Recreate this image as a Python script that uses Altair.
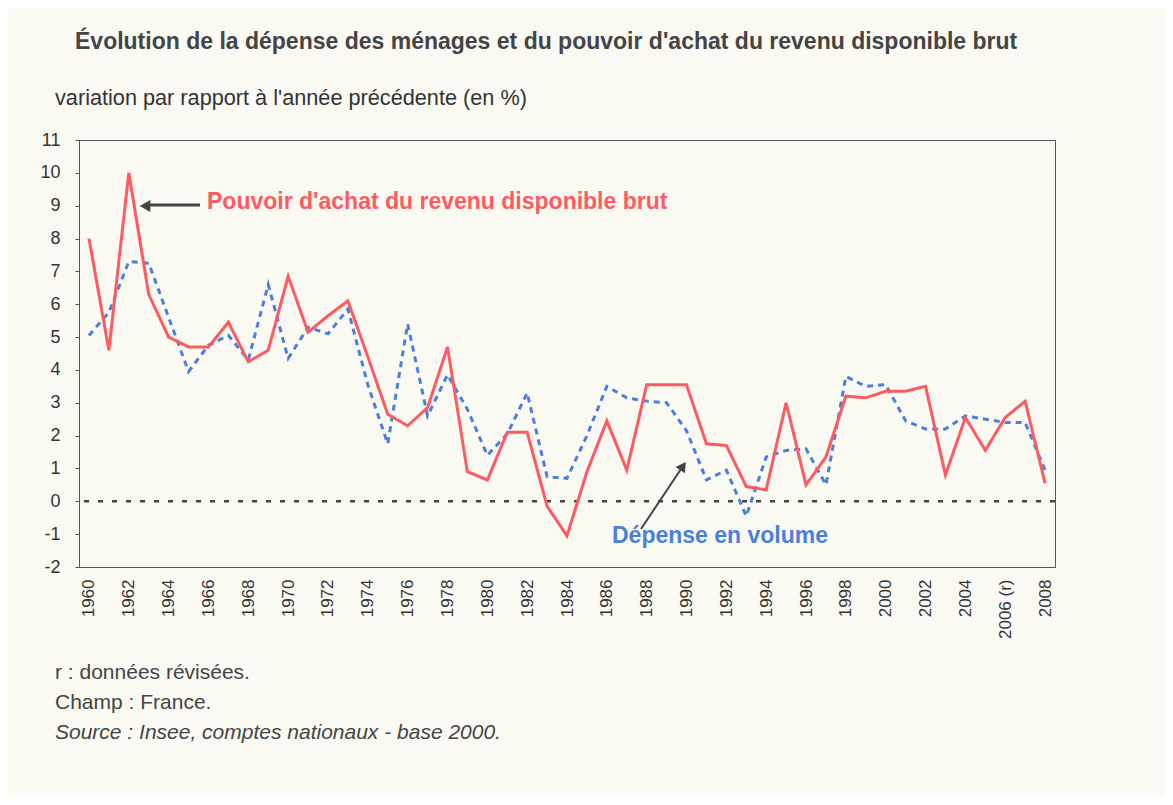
import altair as alt
import pandas as pd

years = [str(y) for y in range(1960, 2009)]

pouvoir_achat = [8.0, 4.6, 10.0, 6.3, 5.0, 4.7, 4.7, 5.45, 4.25, 4.6,
                 6.85, 5.15, 5.65, 6.1, 4.4, 2.65, 2.3, 2.85, 4.7, 0.9,
                 0.65, 2.1, 2.1, -0.15, -1.05, 0.9, 2.45, 0.95, 3.55, 3.55,
                 3.55, 1.75, 1.7, 0.45, 0.35, 3.0, 0.5, 1.35, 3.2, 3.15,
                 3.35, 3.35, 3.5, 0.8, 2.55, 1.55, 2.55, 3.05, 0.55]

depense_volume = [5.05, 5.75, 7.3, 7.25, 5.6, 3.95, 4.75, 5.05, 4.3, 6.6,
                  4.35, 5.3, 5.1, 5.85, 3.55, 1.75, 5.4, 2.6, 3.85, 2.8,
                  1.4, 2.05, 3.3, 0.75, 0.7, 2.0, 3.5, 3.15, 3.05, 3.0,
                  2.15, 0.65, 0.95, -0.45, 1.35, 1.55, 1.6, 0.5, 3.8, 3.5,
                  3.55, 2.45, 2.2, 2.2, 2.6, 2.5, 2.4, 2.4, 0.95]

tick_years = [str(y) for y in range(1960, 2009, 2)]
y_ticks = list(range(-2, 12))

title_text = "Évolution de la dépense des ménages et du pouvoir d'achat du revenu disponible brut"
subtitle_text = "variation par rapport à l'année précédente (en %)"
notes = ["r : données révisées.", "Champ : France."]
source_text = "Source : Insee, comptes nationaux - base 2000."
label_red = "Pouvoir d'achat du revenu disponible brut"
label_blue = "Dépense en volume"

RED = "#ff5a62"
BLUE = "#4a7fdc"
DARK = "#444444"
FONT = "Liberation Sans, Arial, sans-serif"

df = pd.DataFrame({"annee": years, "pouvoir": pouvoir_achat, "depense": depense_volume})

x_enc = alt.X("annee:O", title=None,
              scale=alt.Scale(paddingOuter=0.5),
              axis=alt.Axis(values=tick_years, labelAngle=270, labelFontSize=17,
                            labelColor="#333333", labelFont=FONT, ticks=False,
                            labelPadding=12, domainColor="#555555",
                            labelExpr="datum.value == '2006' ? '2006 (r)' : datum.value"))
y_scale = alt.Scale(domain=[-2, 11], nice=False, zero=False)
y_axis = alt.Axis(values=y_ticks, labelFontSize=18, labelColor="#333333", labelFont=FONT,
                  tickSize=4, tickColor="#555555", labelPadding=15, grid=False,
                  domainColor="#555555", labelExpr="'' + datum.value")

base = alt.Chart(df)

zero_df = pd.DataFrame({"v": [0]})
zero_rule = alt.Chart(zero_df).mark_rule(color=DARK, strokeWidth=2.5, strokeDash=[5, 9]).encode(
    y=alt.Y("v:Q", title=None, scale=y_scale, axis=y_axis))

blue_line = base.mark_line(color=BLUE, strokeWidth=3, strokeDash=[6, 5]).encode(
    x=x_enc, y=alt.Y("depense:Q", title=None, scale=y_scale, axis=y_axis))
red_line = base.mark_line(color=RED, strokeWidth=3).encode(
    x=x_enc, y=alt.Y("pouvoir:Q", title=None, scale=y_scale, axis=y_axis))


def txt(text, x, y, size, color, bold=False, italic=False, font=FONT):
    return alt.Chart(pd.DataFrame({"t": [text]})).mark_text(
        align="left", baseline="middle", fontSize=size, color=color, font=font,
        fontWeight="bold" if bold else "normal",
        fontStyle="italic" if italic else "normal").encode(
        text="t:N", x=alt.value(x), y=alt.value(y))


title = txt(title_text, -4, -98, 23, "#444444", bold=True)
subtitle = txt(subtitle_text, -24, -42, 21.7, "#333333")
note1 = txt(notes[0], -24, 533, 21, "#444444")
note2 = txt(notes[1], -24, 563, 21, "#444444")
source = txt(source_text, -24, 593, 21, "#444444", italic=True)
ann_red = txt(label_red, 128, 62, 23, RED, bold=True)
ann_blue = txt(label_blue, 533, 396, 23, BLUE, bold=True)

arrow1_line = alt.Chart(zero_df).mark_rule(color=DARK, strokeWidth=3).encode(
    x=alt.value(70), x2=alt.value(121), y=alt.value(65), y2=alt.value(65))
arrow1_head = alt.Chart(zero_df).mark_point(shape="triangle-left", filled=True, color=DARK,
                                            size=150, opacity=1).encode(
    x=alt.value(66), y=alt.value(66))
arrow2_line = alt.Chart(zero_df).mark_rule(color=DARK, strokeWidth=2).encode(
    x=alt.value(562), x2=alt.value(602), y=alt.value(389), y2=alt.value(329))
arrow2_head = alt.Chart(zero_df).mark_point(shape="triangle-up", filled=True, color=DARK,
                                            size=130, opacity=1, angle=34).encode(
    x=alt.value(604), y=alt.value(326))

chart = alt.layer(
    zero_rule, blue_line, red_line,
    arrow1_line, arrow1_head, arrow2_line, arrow2_head,
    ann_red, ann_blue, title, subtitle, note1, note2, source
).properties(
    width=976, height=427,
    autosize=alt.AutoSizeParams(type="none"),
    padding={"left": 71, "top": 132, "right": 110, "bottom": 228},
    background="#fafaf3"
).configure_view(stroke="#555555", strokeWidth=1)

chart.save("out.html", embed_options={"renderer": "svg", "actions": False})
